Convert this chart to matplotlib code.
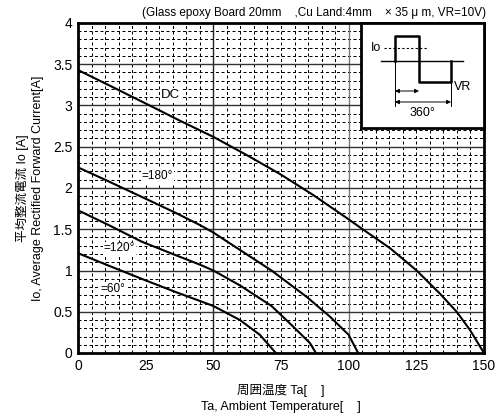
import matplotlib
matplotlib.use("Agg")
import matplotlib.pyplot as plt
import numpy as np

plt.rcParams['font.family'] = ['Liberation Sans', 'Noto Sans CJK JP', 'DejaVu Sans']

# Data
dc_x = [0, 13, 26.5, 38, 50, 62.3, 74.6, 86.9, 100, 104.3, 115.3, 125.1, 133.7, 139.9, 144.8, 148.5, 150]
dc_y = [3.43, 3.22, 3.00, 2.81, 2.62, 2.40, 2.17, 1.915, 1.62, 1.52, 1.27, 1.00, 0.72, 0.50, 0.28, 0.08, 0.0]
d180_x = [0, 10, 25, 36, 45.1, 50, 59.8, 71.5, 84.5, 93.1, 100, 103.5]
d180_y = [2.25, 2.10, 1.87, 1.70, 1.55, 1.46, 1.25, 1.00, 0.68, 0.44, 0.22, 0.0]
d120_x = [0, 12, 23.5, 35, 45.1, 50, 59.8, 71.5, 79.5, 85.7, 87.9]
d120_y = [1.73, 1.54, 1.35, 1.20, 1.07, 1.00, 0.82, 0.57, 0.32, 0.12, 0.0]
d60_x = [0, 12, 25, 36, 45.1, 50, 59.8, 67.2, 73.1]
d60_y = [1.21, 1.05, 0.88, 0.74, 0.63, 0.57, 0.40, 0.22, 0.0]

x_ticks = [0, 25, 50, 75, 100, 125, 150]
y_ticks = [0, 0.5, 1, 1.5, 2, 2.5, 3, 3.5, 4]
y_tick_labels = ['0', '0.5', '1', '1.5', '2', '2.5', '3', '3.5', '4']

title = "(Glass epoxy Board 20mm    ,Cu Land:4mm    \u00d7 35 \u03bc m, VR=10V)"

W, H = 496, 419
fig = plt.figure(figsize=(W/100, H/100), dpi=100)
ax = fig.add_axes([78/W, 1-353/H, (484-78)/W, (353-23)/H])
ax.set_xlim(0, 150)
ax.set_ylim(0, 4)

# grid
minor_kw = dict(color='black', lw=0.72, ls=(0, (3, 2.5)), zorder=1)
for xv in np.arange(5, 150, 5):
    if xv in (50, 100):
        ax.axvline(xv, color='#222222' if xv == 50 else '#777777', lw=1.0, zorder=1.5)
    else:
        ax.axvline(xv, **minor_kw)
for i in range(1, 40):
    yv = i / 10
    if i % 5 == 0:
        ax.axhline(yv, color='#333333', lw=1.0, zorder=1.5)
    else:
        ax.axhline(yv, **minor_kw)

for xs, ys in [(dc_x, dc_y), (d180_x, d180_y), (d120_x, d120_y), (d60_x, d60_y)]:
    ax.plot(xs, ys, color='black', lw=1.5, zorder=3, solid_joinstyle='round')

bb = dict(facecolor='white', edgecolor='none', pad=0.5)
ax.text(34.3, 3.13, 'DC', fontsize=9.5, ha='center', va='center', bbox=bb, zorder=4)
ax.text(29.4, 2.145, '=180\u00b0', fontsize=8.5, ha='center', va='center', bbox=bb, zorder=4)
ax.text(15.3, 1.27, '=120\u00b0', fontsize=8.5, ha='center', va='center', bbox=bb, zorder=4)
ax.text(12.9, 0.78, '=60\u00b0', fontsize=8.5, ha='center', va='center', bbox=bb, zorder=4)

ax.set_xticks(x_ticks)
ax.set_yticks(y_ticks)
ax.set_yticklabels(y_tick_labels)
ax.tick_params(length=0, labelsize=10, pad=4)
for s in ax.spines.values():
    s.set_linewidth(2)
    s.set_zorder(5)

fig.text(486/W, 1-13/H, title, ha='right', va='center', fontsize=8.5)
fig.text(281/W, 1-390/H, '周囲温度 Ta[    ]', ha='center', va='center', fontsize=9)
fig.text(281/W, 1-407/H, 'Ta, Ambient Temperature[    ]', ha='center', va='center', fontsize=9)
fig.text(22/W, 1-188/H, '平均整流電流 Io [A]', ha='center', va='center', rotation=90, fontsize=9)
fig.text(38/W, 1-188/H, 'Io, Average Rectified Forward Current[A]', ha='center', va='center', rotation=90, fontsize=9)

# inset schematic
ia = fig.add_axes([361/W, 1-128/H, (484-361)/W, (128-23)/H], zorder=10)
ia.set_xlim(361, 484)
ia.set_ylim(128, 23)
ia.set_xticks([]); ia.set_yticks([])
ia.set_facecolor('white')
for s in ia.spines.values():
    s.set_linewidth(2)
ia.plot([381, 463], [61, 61], color='black', lw=1.0)
ia.plot([395, 395, 419, 419, 451, 451], [61, 35.7, 35.7, 81.7, 81.7, 61], color='black', lw=1.8)
ia.plot([384, 427], [48, 48], color='black', lw=0.8, ls=(0, (2, 2)))
ia.text(376, 48, 'Io', fontsize=9, ha='center', va='center')
ia.text(463, 87, 'VR', fontsize=9, ha='center', va='center')
ia.plot([395, 395], [61, 106], color='black', lw=0.7)
ia.plot([451, 451], [82, 106], color='black', lw=0.7)
ia.annotate('', xy=(395, 91), xytext=(419, 91), arrowprops=dict(arrowstyle='<|-|>', lw=0.7, color='black', mutation_scale=6, shrinkA=0, shrinkB=0))
ia.annotate('', xy=(395, 102), xytext=(451, 102), arrowprops=dict(arrowstyle='<|-|>', lw=0.7, color='black', mutation_scale=6, shrinkA=0, shrinkB=0))
ia.text(422, 113, '360\u00b0', fontsize=9, ha='center', va='center')

fig.savefig('out.png', dpi=100)
